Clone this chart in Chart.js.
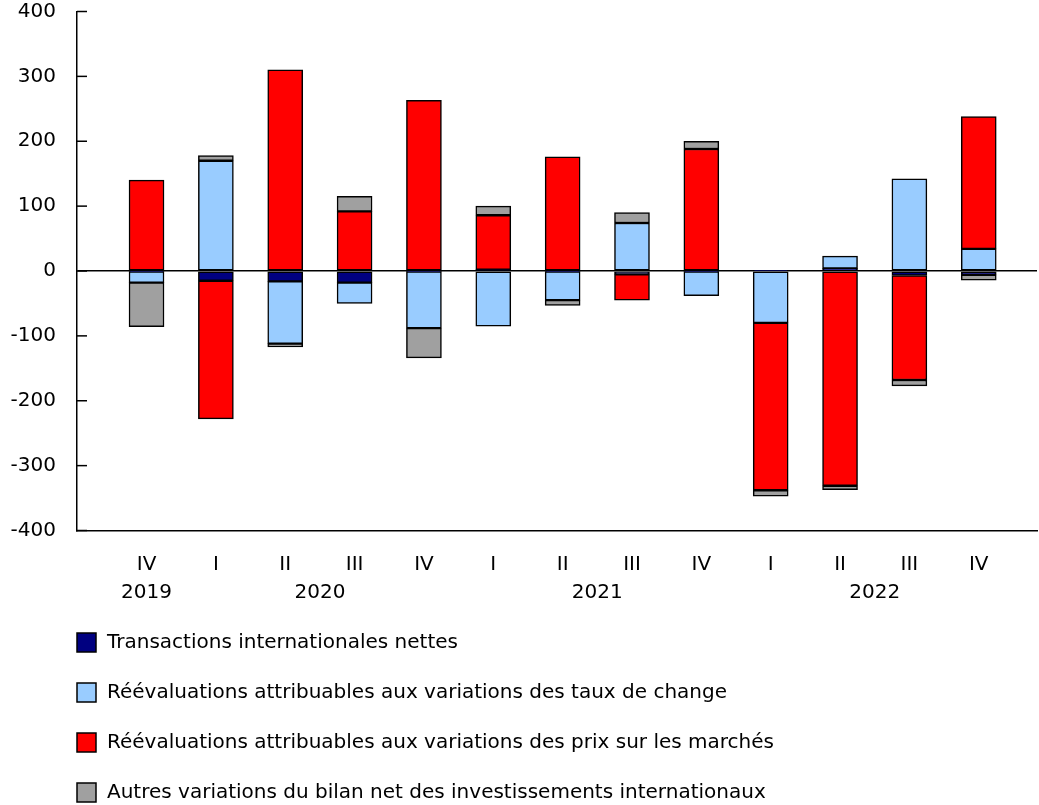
<!DOCTYPE html>
<html>
<head>
<meta charset="utf-8">
<script src="https://cdn.jsdelivr.net/npm/chart.js@4"></script>
<style>
html, body { margin: 0; padding: 0; background: #fff; }
canvas { display: block; }
</style>
</head>
<body>
<canvas id="chart" width="1039" height="805"></canvas>
<script>
// data
var quarterLabels = ['IV', 'I', 'II', 'III', 'IV', 'I', 'II', 'III', 'IV', 'I', 'II', 'III', 'IV'];
var yearLabels = ['2019', '2020', '2020', '2020', '2020', '2021', '2021', '2021', '2021', '2022', '2022', '2022', '2022'];
var transactions = [-1, -15, -16, -18, -1, 2, -1, -5, -1, 1, 4, -7, -6];
var exchangeRates = [-17, 170, -96, -32, -87, -85, -44, 74, -37, -80, 19, 142, 34];
var marketPrices = [140, -213, 310, 92, 263, 84, 176, -40, 188, -258, -331, -161, 204];
var otherChanges = [-68, 8, -5, 23, -46, 14, -8, 16, 12, -9, -6, -9, -8];
var yTicks = [-400, -300, -200, -100, 0, 100, 200, 300, 400];

function toPoints(values) {
    return values.map(function (v, i) { return { x: i, y: v }; });
}

Chart.defaults.font.family = "'DejaVu Sans', Verdana, sans-serif";
Chart.defaults.font.size = 20;
Chart.defaults.color = '#000';

// inward ticks on the y axis
var yTickMarks = {
    id: 'yTickMarks',
    afterDraw: function (chart) {
        var ctx = chart.ctx;
        var y = chart.scales.y;
        var left = chart.chartArea.left;
        ctx.save();
        ctx.strokeStyle = '#000';
        ctx.lineWidth = 1.5;
        yTicks.forEach(function (v) {
            var py = y.getPixelForValue(v);
            ctx.beginPath();
            ctx.moveTo(left, py);
            ctx.lineTo(left + 10, py);
            ctx.stroke();
        });
        ctx.restore();
    }
};

// year row under the quarters
var yearRow = {
    id: 'yearRow',
    afterDraw: function (chart) {
        var ctx = chart.ctx;
        var x = chart.scales.x;
        var groups = {};
        var order = [];
        yearLabels.forEach(function (yr, i) {
            if (!groups[yr]) { groups[yr] = []; order.push(yr); }
            groups[yr].push(i);
        });
        ctx.save();
        ctx.font = "20px 'DejaVu Sans'";
        ctx.fillStyle = '#000';
        ctx.textAlign = 'center';
        ctx.textBaseline = 'middle';
        order.forEach(function (yr) {
            var idx = groups[yr];
            var mid = (idx[0] + idx[idx.length - 1]) / 2;
            ctx.fillText(yr, x.getPixelForValue(mid), 593);
        });
        ctx.restore();
    }
};

// vertical legend
var sideLegend = {
    id: 'sideLegend',
    afterDraw: function (chart) {
        var ctx = chart.ctx;
        ctx.save();
        ctx.font = "20px 'DejaVu Sans'";
        ctx.textBaseline = 'middle';
        chart.data.datasets.forEach(function (ds, i) {
            var cy = 643 + i * 50;
            ctx.fillStyle = ds.backgroundColor;
            ctx.fillRect(77, cy - 10, 19, 19);
            ctx.strokeStyle = '#000';
            ctx.lineWidth = 1.5;
            ctx.strokeRect(77, cy - 10, 19, 19);
            ctx.fillStyle = '#000';
            ctx.fillText(ds.label, 107, cy);
        });
        ctx.restore();
    }
};

var barStyle = {
    borderColor: '#000',
    borderWidth: 1.5,
    borderSkipped: false,
    barThickness: 35
};

var chart = new Chart(document.getElementById('chart'), {
    type: 'bar',
    data: {
        datasets: [
            Object.assign({ label: 'Transactions internationales nettes', data: toPoints(transactions), backgroundColor: '#000080' }, barStyle),
            Object.assign({ label: 'Réévaluations attribuables aux variations des taux de change', data: toPoints(exchangeRates), backgroundColor: '#99ccff' }, barStyle),
            Object.assign({ label: 'Réévaluations attribuables aux variations des prix sur les marchés', data: toPoints(marketPrices), backgroundColor: '#ff0000' }, barStyle),
            Object.assign({ label: 'Autres variations du bilan net des investissements internationaux', data: toPoints(otherChanges), backgroundColor: '#a0a0a0' }, barStyle)
        ]
    },
    options: {
        responsive: false,
        devicePixelRatio: 1,
        animation: false,
        layout: { padding: { top: 11.5, right: 2, left: 0, bottom: 0 } },
        plugins: {
            legend: { display: false },
            tooltip: { enabled: false }
        },
        scales: {
            x: {
                type: 'linear',
                offset: false,
                min: -1.0025,
                max: 12.84,
                stacked: true,
                grid: { display: false, offset: false },
                border: { display: true, color: '#000', width: 1.5 },
                ticks: {
                    padding: 14,
                    maxRotation: 0,
                    autoSkip: false,
                    callback: function (v) { return quarterLabels[v]; }
                },
                afterBuildTicks: function (scale) {
                    scale.ticks = quarterLabels.map(function (q, i) { return { value: i }; });
                },
                afterFit: function (scale) {
                    scale.height = 805 - 530.5;
                    scale.paddingLeft = 0;
                    scale.paddingRight = 0;
                }
            },
            y: {
                min: -400,
                max: 400,
                stacked: true,
                grid: {
                    drawTicks: false,
                    lineWidth: 1.5,
                    color: function (ctx) { return ctx.tick && ctx.tick.value === 0 ? '#000' : 'rgba(0,0,0,0)'; }
                },
                border: { display: true, color: '#000', width: 1.5 },
                ticks: { stepSize: 100, padding: 21 },
                afterBuildTicks: function (scale) {
                    scale.ticks = yTicks.map(function (v) { return { value: v }; });
                },
                afterFit: function (scale) {
                    scale.width = 77;
                    scale.paddingTop = 0;
                    scale.paddingBottom = 0;
                }
            }
        }
    },
    plugins: [yTickMarks, yearRow, sideLegend]
});
</script>
</body>
</html>
